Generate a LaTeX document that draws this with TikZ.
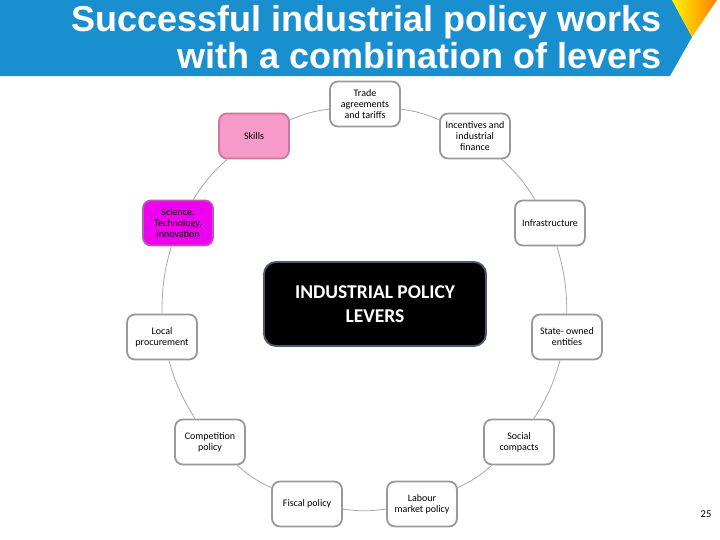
\documentclass[tikz,border=0pt]{standalone}
\usepackage{fontspec}
\setmainfont{Carlito}
\newfontfamily\titlefont{Liberation Sans}
\definecolor{bannerblue}{HTML}{1A8FD0}
\definecolor{boxborder}{HTML}{999999}
\definecolor{skillpink}{HTML}{F799C9}
\definecolor{skillborder}{HTML}{C9789F}
\definecolor{scimag}{HTML}{EE00EE}
\definecolor{sciborder}{HTML}{B65AB6}
\definecolor{linkgray}{HTML}{A8A8A8}
\definecolor{centerborder}{HTML}{4A5A70}
\begin{document}
\begin{tikzpicture}[x=1pt,y=1pt,
  lever/.style={draw=boxborder, line width=1.8pt, fill=white, rounded corners=8pt,
    minimum width=70pt, minimum height=45pt, align=center, inner sep=2pt,
    font=\fontsize{10}{11}\selectfont, text=black},
  link/.style={draw=linkgray, line width=0.8pt},
  titleline/.style={anchor=base east, text=white, inner sep=0pt,
    font=\titlefont\bfseries\fontsize{36}{38}\selectfont},
  hub/.style={draw=centerborder, line width=1.8pt, fill=black, rounded corners=12pt,
    minimum width=222pt, minimum height=84pt, align=center, text=white,
    font=\bfseries\fontsize{19.5}{24}\selectfont}]
\useasboundingbox (0,0) rectangle (720,-539);
\fill[white] (0,0) rectangle (720,-539);
% banner
\fill[bannerblue] (0,0) -- (672,0) -- (692,-37) -- (670,-76) -- (0,-76) -- cycle;
\shade[left color=yellow!90!orange, right color=orange] (672,0) -- (717,0) -- (692,-37) -- cycle;
\node[titleline] (title1) at (662,-31) {Successful industrial policy works};
\node[titleline] (title2) at (662,-68) {with a combination of levers};
% nodes
\node[lever] (trade) at (365,-104) {Trade\\agreements\\and tariffs};
\node[lever] (incent) at (475,-136) {Incentives and\\industrial\\finance};
\node[lever, fill=skillpink, draw=skillborder] (skills) at (254,-136) {Skills};
\node[lever, fill=scimag, draw=sciborder] (sci) at (178,-223) {Science,\\Technology,\\Innovation};
\node[lever] (infra) at (550,-223) {Infrastructure};
\node[lever] (local) at (162,-337) {Local\\procurement};
\node[lever] (state) at (567,-337) {State- owned\\entities};
\node[lever] (comp) at (210,-442) {Competition\\policy};
\node[lever] (social) at (519,-442) {Social\\compacts};
\node[lever] (fiscal) at (307,-504) {Fiscal policy};
\node[lever] (labour) at (422,-504) {Labour\\market policy};
\node[hub] (hub) at (375,-304) {INDUSTRIAL POLICY\\LEVERS};
% connectors (clockwise around the ring)
\draw[link] (trade) to[bend left=8] (incent);
\draw[link] (incent) to[bend left=8] (infra);
\draw[link] (infra) to[bend left=8] (state);
\draw[link] (state) to[bend left=8] (social);
\draw[link] (social) to[bend left=8] (labour);
\draw[link] (labour) to[bend left=8] (fiscal);
\draw[link] (fiscal) to[bend left=8] (comp);
\draw[link] (comp) to[bend left=8] (local);
\draw[link] (local) to[bend left=8] (sci);
\draw[link] (sci) to[bend left=8] (skills);
\draw[link] (skills) to[bend left=8] (trade);
% page number
\node[font=\fontsize{10.5}{12}\selectfont, anchor=center] (pg) at (706,-514) {25};
\end{tikzpicture}
\end{document}
